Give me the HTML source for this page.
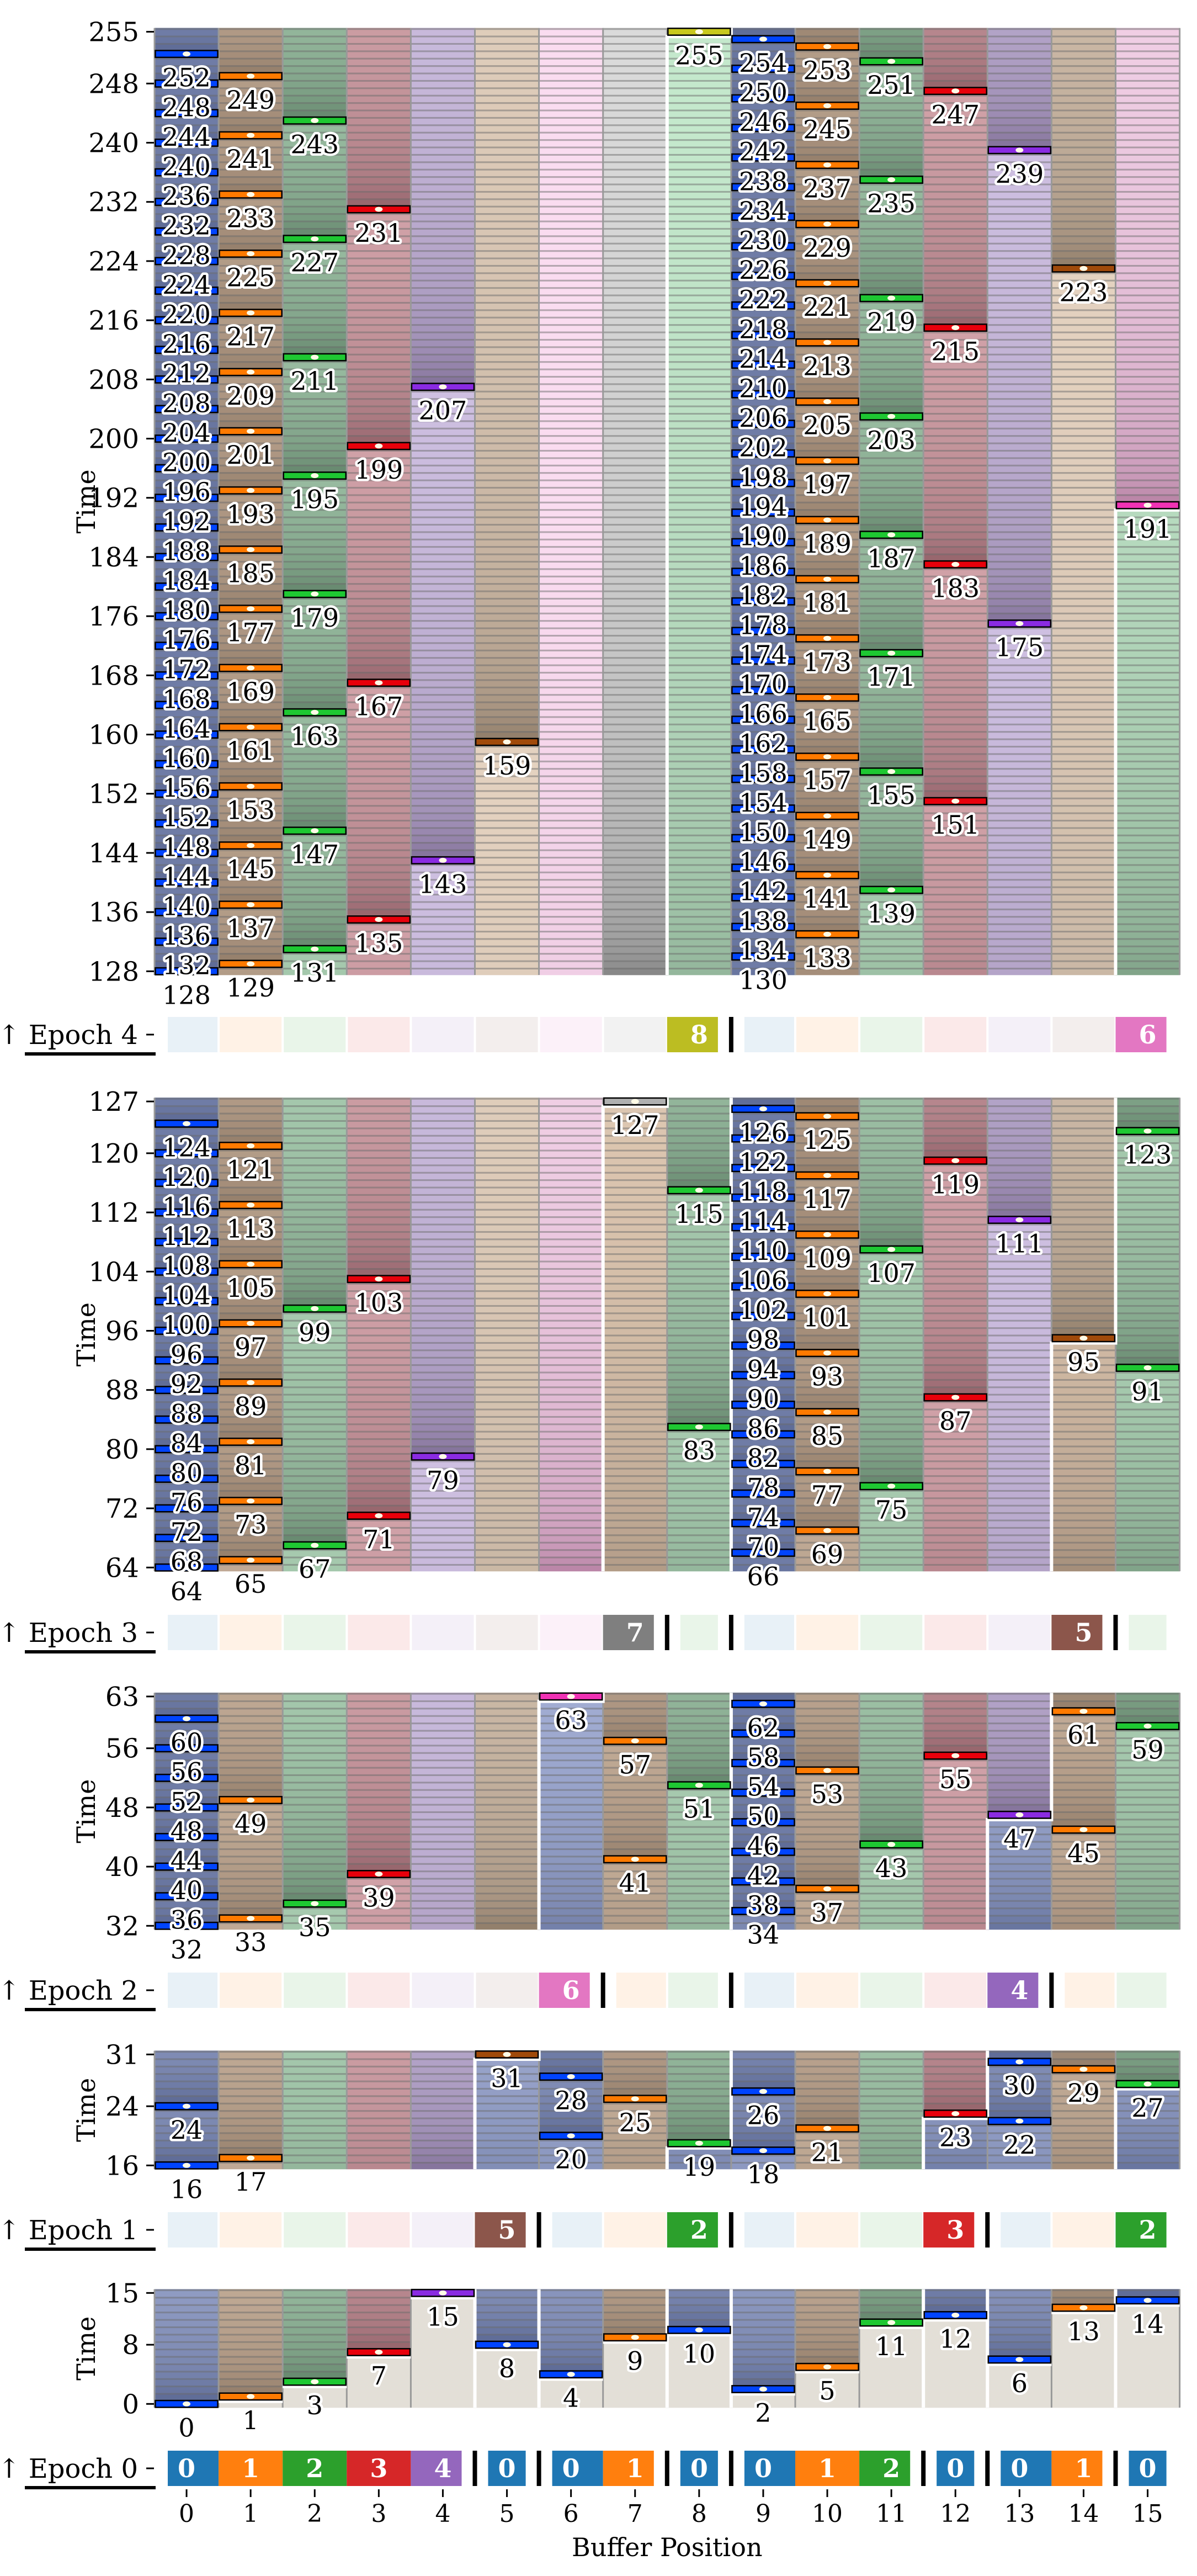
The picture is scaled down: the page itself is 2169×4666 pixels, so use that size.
<!DOCTYPE html>
<html><head><meta charset="utf-8">
<style>
html,body{margin:0;padding:0;background:#fff;}
svg{display:block;}
text{font-family:"DejaVu Serif","Liberation Serif",serif;}
</style></head>
<body>
<svg id="chart" xmlns="http://www.w3.org/2000/svg" width="2169" height="4666" viewBox="0 0 2169 4666">
<rect x="0" y="0" width="2169" height="4666" fill="#fff"/>
</svg>
<script>
// ---- data ----
const epochRanges = [[0,15],[16,31],[32,63],[64,127],[128,255]];
const groupSizesE0 = [5,1,2,1,3,1,2,1];
const groupSizesE1 = [6,3,4,3];
const groupSizesE2 = [7,2,5,2];
const groupSizesE3 = [8,1,6,1];
const groupSizesE4 = [9,7];
const slotE0 = [0,1,2,3,4,0,0,1,0,0,1,2,0,0,1,0];
const slotE1 = [0,1,2,3,4,5,0,1,2,0,1,2,3,0,1,2];
const slotE2 = [0,1,2,3,4,5,6,1,2,0,1,2,3,4,1,2];
const slotE3 = [0,1,2,3,4,5,6,7,2,0,1,2,3,4,5,2];
const slotE4 = [0,1,2,3,4,5,6,7,8,0,1,2,3,4,5,6];
const solidE0 = [1,1,1,1,1,1,1,1,1,1,1,1,1,1,1,1];
const solidE1 = [0,0,0,0,0,1,0,0,1,0,0,0,1,0,0,1];
const solidE2 = [0,0,0,0,0,0,1,0,0,0,0,0,0,1,0,0];
const solidE3 = [0,0,0,0,0,0,0,1,0,0,0,0,0,0,1,0];
const solidE4 = [0,0,0,0,0,0,0,0,1,0,0,0,0,0,0,1];
const writesE0 = [[0],[1],[3],[7],[15],[8],[4],[9],[10],[2],[5],[11],[12],[6],[13],[14]];
const writesE1 = [[16,24],[17],[],[],[],[31],[20,28],[25],[19],[18,26],[21],[],[23],[22,30],[29],[27]];
const writesE2 = [[32,36,40,44,48,52,56,60],[33,49],[35],[39],[],[],[63],[41,57],[51],
  [34,38,42,46,50,54,58,62],[37,53],[43],[55],[47],[45,61],[59]];
const writesE3 = [[64,68,72,76,80,84,88,92,96,100,104,108,112,116,120,124],
  [65,73,81,89,97,105,113,121],[67,99],[71,103],[79],[],[],[127],[83,115],
  [66,70,74,78,82,86,90,94,98,102,106,110,114,118,122,126],
  [69,77,85,93,101,109,117,125],[75,107],[87,119],[111],[95],[91,123]];
const writesE4 = [[128,132,136,140,144,148,152,156,160,164,168,172,176,180,184,188,192,196,200,204,208,212,216,220,224,228,232,236,240,244,248,252],
  [129,137,145,153,161,169,177,185,193,201,209,217,225,233,241,249],
  [131,147,163,179,195,211,227,243],[135,167,199,231],[143,207],[159],[],[],[255],
  [130,134,138,142,146,150,154,158,162,166,170,174,178,182,186,190,194,198,202,206,210,214,218,222,226,230,234,238,242,246,250,254],
  [133,141,149,157,165,173,181,189,197,205,213,221,229,237,245,253],
  [139,155,171,187,203,219,235,251],[151,183,215,247],[175,239],[223],[191]];
const ticksE0 = [0,8,15];
const ticksE1 = [16,24,31];
const ticksE2 = [32,40,48,56,63];
const ticksE3 = [64,72,80,88,96,104,112,120,127];
const ticksE4 = [128,136,144,152,160,168,176,184,192,200,208,216,224,232,240,248,255];
const xTickLabels = ['0','1','2','3','4','5','6','7','8','9','10','11','12','13','14','15'];

// ---- styling / layout ----
const groupSizes=[groupSizesE0,groupSizesE1,groupSizesE2,groupSizesE3,groupSizesE4];
const slots=[slotE0,slotE1,slotE2,slotE3,slotE4];
const solids=[solidE0,solidE1,solidE2,solidE3,solidE4];
const writes=[writesE0,writesE1,writesE2,writesE3,writesE4];
const ticks=[ticksE0,ticksE1,ticksE2,ticksE3,ticksE4];
const layout=[{bottom:4361,strip:4439},{bottom:3929,strip:4007},{bottom:3495,strip:3573},{bottom:2846,strip:2925},{bottom:1766,strip:1842}];
const RH=13.4, X0=280, CW=116.1, SH=64;
const tab=['#1f77b4','#ff7f0e','#2ca02c','#d62728','#9467bd','#8c564b','#e377c2','#7f7f7f','#bcbd22'];
const sat=['#0044ff','#ff7a00','#1ec832','#e8000b','#8a2be2','#a04a0a','#f032b4','#b0b0b0','#c8c81e'];
const dark=[[80,94,138],[138,115,96],[90,124,98],[138,88,96],[120,102,144],[134,114,94],[176,120,156],[122,122,122],[138,138,64]];
const light=[[190,200,236],[232,210,188],[196,232,204],[236,190,196],[220,206,238],[228,210,192],[250,220,240],[218,218,218],[232,232,184]];

const NS='http://www.w3.org/2000/svg';
const svg=document.getElementById('chart');
function el(tag,attrs,parent){const e=document.createElementNS(NS,tag);for(const k in attrs)e.setAttribute(k,attrs[k]);(parent||svg).appendChild(e);return e;}
function xB(b){return X0+b*CW;}
function xC(c){return X0+(c+0.5)*CW;}
function yT(p,t){return layout[p].bottom-(t-epochRanges[p][0]+0.5)*RH;}
function mix(a,b,f){return 'rgb('+a.map((v,i)=>Math.round(v+(b[i]-v)*f)).join(',')+')';}

const groupOf=[];
for(let e=0;e<5;e++){const go=[];let c=0;groupSizes[e].forEach(s=>{const a=c;for(let i=0;i<s;i++){go.push({a:a,b:a+s-1});c++;}});groupOf.push(go);}
const hist=[];
for(let c=0;c<16;c++){const h=[];for(let e=0;e<5;e++)writes[e][c].forEach(t=>h.push({t:t,k:slots[e][c]}));h.sort((a,b)=>a.t-b.t);hist.push(h);}

const labelLayer=[];
for(let p=0;p<5;p++){
  const lo=epochRanges[p][0],hi=epochRanges[p][1];
  const bottom=layout[p].bottom, top=bottom-(hi-lo+1)*RH;
  const g=el('g',{});
  
  
  for(let c=0;c<16;c++){
    const cg=el('g',{},g);
    
    
    for(let t=lo;t<=hi;t++){
      let w=null;for(const h of hist[c]){if(h.t<=t)w=h;else break;}
      const y=yT(p,t)-RH/2;
      if(!w){
        const r=el('rect',{x:xB(c),y:y-0.3,width:CW+0.5,height:RH+0.6,fill:'#e3dfd7'},cg);
        
        
        continue;
      }
      const age=t-w.t;const f=Math.min(1,Math.log2(1+age)/7);
      const r=el('rect',{x:xB(c),y:y-0.3,width:CW+0.5,height:RH+0.6,fill:mix(dark[w.k],light[w.k],f)},cg);
      
      
      const s=el('rect',{x:xB(c),y:y,width:CW,height:3.4,fill:'rgba(110,110,110,0.5)'},cg);
      
      
    }
  }
  for(let b=0;b<=16;b++){
    const l=el('line',{x1:xB(b),x2:xB(b),y1:top,y2:bottom,stroke:'#999',"stroke-width":3},g);
    
    
  }
  const wl=[];
  if(p===0){
    for(let c=0;c<16;c++){const m=writes[0][c][0];const yb=yT(0,m)+RH/2;wl.push([[xB(c),yb+2],[xB(c+1),yb+2]]);}
    groupSizes[0].reduce((acc,s)=>{const b=acc+s;if(b<16)wl.push([[xB(b),bottom],[xB(b),top]]);return b;},0);
  } else {
    let a=0;
    groupSizes[p].forEach(s=>{const b=a+s-1;
      if(solids[p][b]&&writes[p][b].length){const m=Math.max(...writes[p][b]);const yb=yT(p,m)+RH/2+2;
        const pts=[[xB(b),bottom],[xB(b),yb],[xB(b+1),yb]];if(b+1<16)pts.push([xB(b+1),top]);wl.push(pts);}
      else if(b<15){wl.push([[xB(b+1),bottom],[xB(b+1),top]]);}
      a+=s;});
  }
  wl.forEach(pts=>{const l=el('polyline',{points:pts.map(q=>q.join(',')).join(' '),fill:'none',stroke:'#fff',"stroke-width":6},g);
    
    });
  for(let c=0;c<16;c++){
    writes[p][c].forEach(t=>{
      const k=slots[p][c];const y=yT(p,t);
      const m=el('rect',{x:xB(c)+1.5,y:y-RH/2+0.5,width:CW-3,height:RH-1,fill:sat[k],stroke:'#000',"stroke-width":2.5},g);
      
      
      const d=el('ellipse',{cx:xC(c),cy:y,rx:7,ry:4.5,fill:'#fffbe6'},g);
      
      
      labelLayer.push({x:xC(c),y:y+59,t:t});
    });
  }
  ticks[p].forEach(v=>{const y=yT(p,v);
    const tk=el('line',{x1:265,x2:279,y1:y,y2:y,stroke:'#000',"stroke-width":3});
    
    
    const tx=el('text',{x:252,y:y+17,"text-anchor":"end","font-size":48,fill:'#000'});tx.textContent=v;
    
    });
  const yc=(top+bottom)/2;
  const tl=el('text',{x:0,y:0,transform:'translate(172,'+yc+') rotate(-90)',"text-anchor":"middle","font-size":46,fill:'#000'});tl.textContent='Time';
  
  
  const sy=layout[p].strip;
  const sg=el('g',{});
  
  
  for(let c=0;c<16;c++){
    const gr=groupOf[p][c];const k=slots[p][c];const solid=solids[p][c];
    const gap=solid?0:2;
    const l=xB(c)+(c===gr.a?24:gap), r=xB(c+1)-(c===gr.b?24:gap);
    const bx=el('rect',{x:l,y:sy,width:r-l,height:SH,fill:tab[k],"fill-opacity":solid?1:0.1},sg);
    
    
    if(solid){const tx=el('text',{x:xC(c),y:sy+SH/2+16,"text-anchor":"middle","font-size":46,"font-weight":"bold",fill:'#fff'},sg);tx.textContent=k;
      
      }
    if(c===gr.b&&c<15){const sb=el('rect',{x:xB(c+1)-4,y:sy,width:8,height:SH,fill:'#000'},sg);
      
      }
  }
  const et=el('text',{x:250,y:sy+SH/2+17,"text-anchor":"end","font-size":48,fill:'#000'});et.textContent='\u2191 Epoch '+p;
  
  
  const etk=el('line',{x1:265,x2:279,y1:sy+SH/2,y2:sy+SH/2,stroke:'#000',"stroke-width":3});
  
  
  const ul=el('line',{x1:45,x2:282,y1:sy+SH+3,y2:sy+SH+3,stroke:'#000',"stroke-width":6});
  
  
}
labelLayer.forEach(L=>{const tx=el('text',{x:L.x,y:L.y,"text-anchor":"middle","font-size":46,fill:'#000',stroke:'#fff',"stroke-width":9,"stroke-linejoin":"round","paint-order":"stroke"});tx.textContent=L.t;
  
  });
const sy0=layout[0].strip+SH;
xTickLabels.forEach((s,c)=>{
  const tk=el('line',{x1:xC(c),x2:xC(c),y1:sy0+6,y2:sy0+20,stroke:'#000',"stroke-width":3});
  
  
  const tx=el('text',{x:xC(c),y:4568,"text-anchor":"middle","font-size":44,fill:'#000'});tx.textContent=s;
  
  
});
const xt=el('text',{x:X0+8*CW,y:4630,"text-anchor":"middle","font-size":46,fill:'#000'});xt.textContent='Buffer Position';


</script>
</body></html>
